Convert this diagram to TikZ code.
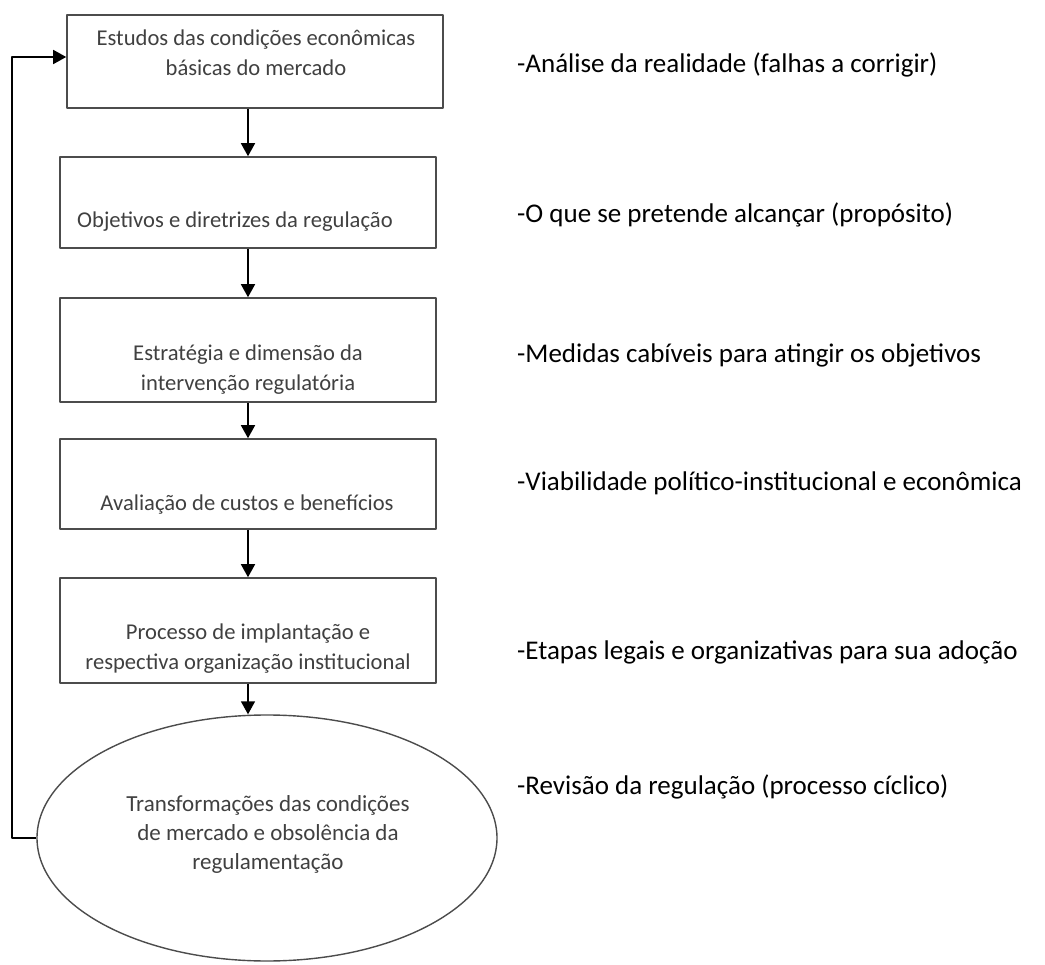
\documentclass[tikz,border=0pt]{standalone}
\usepackage{fontspec}
\setmainfont{Carlito}
\usetikzlibrary{arrows.meta,shapes.geometric}
\tikzset{
	caixa/.style={draw=black!70, line width=1.6pt, minimum width=376pt, inner sep=0pt},
	textocaixa/.style={text=black!75, align=center, inner sep=0pt, font=\fontsize{22.6}{30}\selectfont},
	nota/.style={anchor=west, inner sep=0pt, font=\fontsize{27}{30}\selectfont},
	seta/.style={line width=1.6pt, -{Triangle[width=14pt,length=13pt]}}
}
\begin{document}
\begin{tikzpicture}[x=1pt, y=-1pt, line join=round]
	\useasboundingbox (0,0) rectangle (1045,965);
	%%%%%%%%%%%%%%%%%%%%%%%%%%%%%%%%%
	\node[caixa, minimum height=93pt] (B1) at (255,61.5) {};
	\node[caixa, minimum height=91pt] (B2) at (248,202.5) {};
	\node[caixa, minimum height=104pt] (B3) at (248,350) {};
	\node[caixa, minimum height=90pt] (B4) at (248,484) {};
	\node[caixa, minimum height=105pt] (B5) at (248,630.5) {};
	\node[draw=black!70, line width=1.4pt, ellipse, minimum width=460pt, minimum height=246pt, inner sep=0pt] (E) at (267,838) {};
	%%%%%%%%%%%%%%%%%%%%%%%%%%%%%%%%%
	\node[textocaixa] (T1) at (256,53) {Estudos das condições econômicas\\básicas do mercado};
	\node[textocaixa, anchor=west] (T2) at (77,222) {Objetivos e diretrizes da regulação};
	\node[textocaixa] (T3) at (248,370) {Estratégia e dimensão da\\intervenção regulatória};
	\node[textocaixa] (T4) at (247,505) {Avaliação de custos e benefícios};
	\node[textocaixa] (T5) at (248,649) {Processo de implantação e\\respectiva organização institucional};
	\node[textocaixa, font=\fontsize{23}{29}\selectfont] (T6) at (268,834) {Transformações das condições\\de mercado e obsolência da\\regulamentação};
	%%%%%%%%%%%%%%%%%%%%%%%%%%%%%%%%%
	\node[nota] (N1) at (517,65) {-Análise da realidade (falhas a corrigir)};
	\node[nota] (N2) at (517,215) {-O que se pretende alcançar (propósito)};
	\node[nota] (N3) at (517,355) {-Medidas cabíveis para atingir os objetivos};
	\node[nota] (N4) at (517,483) {-Viabilidade político-institucional e econômica};
	\node[nota] (N5) at (517,652) {-Etapas legais e organizativas para sua adoção};
	\node[nota] (N6) at (517,787) {-Revisão da regulação (processo cíclico)};
	%%%%%%%%%%%%%%%%%%%%%%%%%%%%%%%%%
	\coordinate (V) at (12,57);
	\draw[seta] (B2.north |- B1.south) -- (B2.north);
	\draw[seta] (B2.south) -- (B3.north);
	\draw[seta] (B3.south) -- (B4.north);
	\draw[seta] (B4.south) -- (B5.north);
	\draw[seta] (B5.south) -- (B5.south |- E.north);
	\draw[seta] (E.west) -| (V) -- (V -| B1.west);
	%%%%%%%%%%%%%%%%%%%%%%%%%%%%%%%%%
\end{tikzpicture}
\end{document}
